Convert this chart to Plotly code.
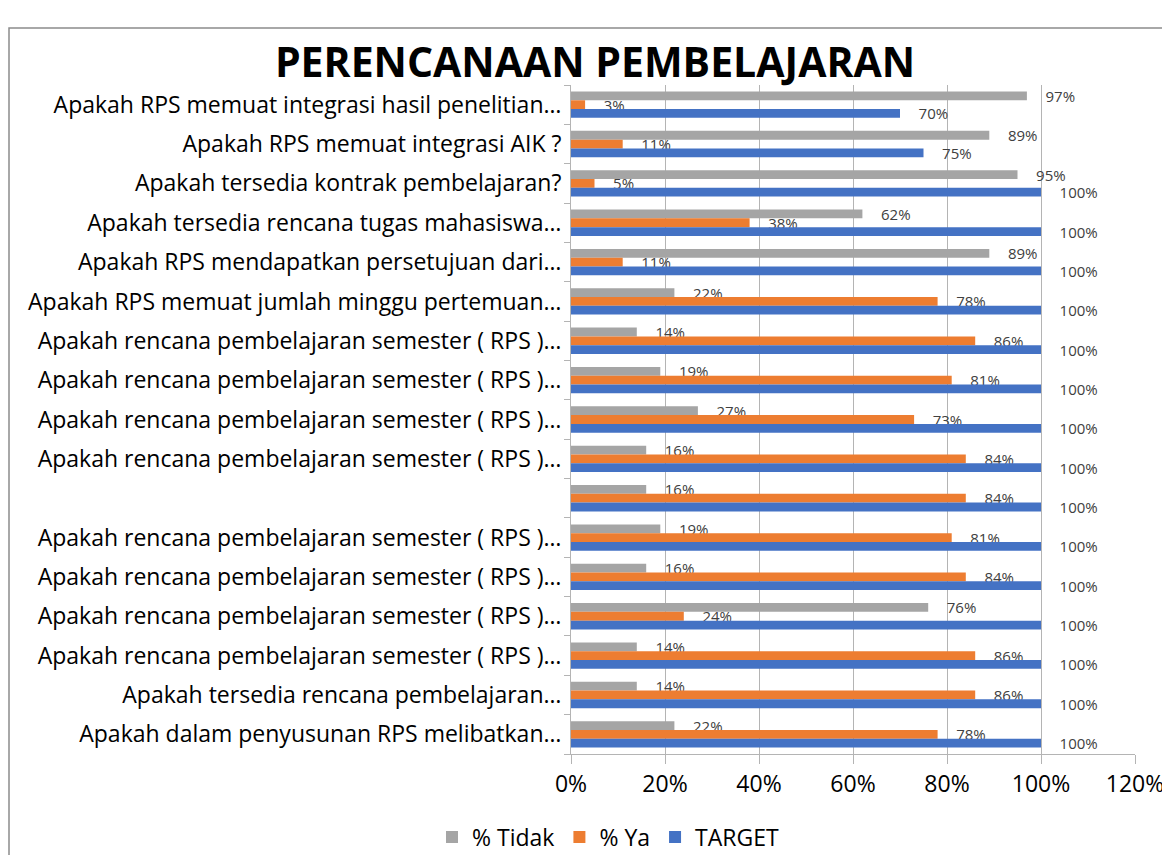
import plotly.graph_objects as go

# Categories listed top-to-bottom as in the reference
categories = [
    "Apakah RPS memuat integrasi hasil penelitian…",
    "Apakah RPS memuat integrasi AIK ?",
    "Apakah tersedia kontrak pembelajaran?",
    "Apakah tersedia rencana tugas mahasiswa…",
    "Apakah RPS mendapatkan persetujuan dari…",
    "Apakah RPS memuat jumlah minggu pertemuan…",
    "Apakah rencana pembelajaran semester ( RPS )…",
    "Apakah rencana pembelajaran semester ( RPS )…",
    "Apakah rencana pembelajaran semester ( RPS )…",
    "Apakah rencana pembelajaran semester ( RPS )…",
    "",
    "Apakah rencana pembelajaran semester ( RPS )…",
    "Apakah rencana pembelajaran semester ( RPS )…",
    "Apakah rencana pembelajaran semester ( RPS )…",
    "Apakah rencana pembelajaran semester ( RPS )…",
    "Apakah tersedia rencana pembelajaran…",
    "Apakah dalam penyusunan RPS melibatkan…",
]
tidak = [97, 89, 95, 62, 89, 22, 14, 19, 27, 16, 16, 19, 16, 76, 14, 14, 22]
ya = [3, 11, 5, 38, 11, 78, 86, 81, 73, 84, 84, 81, 84, 24, 86, 86, 78]
target = [70, 75, 100, 100, 100, 100, 100, 100, 100, 100, 100, 100, 100, 100, 100, 100, 100]

series = [
    ("% Tidak", tidak, "#A5A5A5"),
    ("% Ya", ya, "#ED7D31"),
    ("TARGET", target, "#4472C4"),
]

# page offset of the plot div (body margin)
O = 8
W, H = 1170 - O, 863 - 2 * O
# plot area in reference pixels
PL, PR, PT, PB = 571, 1135, 85, 754
ML, MR, MT, MB = PL - O, W - (PR - O), PT - O, H - (PB - O)
PW = W - ML - MR
PH = H - MT - MB

pos = list(range(len(categories)))
pad = "\u00a0" * 4

fig = go.Figure()
for name, vals, color in series:
    fig.add_trace(go.Bar(
        name=name,
        y=pos,
        x=[v / 100 for v in vals],
        orientation="h",
        marker=dict(color=color, line=dict(width=0)),
        text=[f"{pad}{v}%" for v in vals],
        textposition="outside",
        textfont=dict(family="Open Sans", size=15, color="#404040"),
        constraintext="none",
        cliponaxis=False,
        hoverinfo="skip",
    ))

def px_to_paper_x(px):
    return (px - O - ML) / PW

def px_to_paper_y(py):
    return (H - MB - (py - O)) / PH

fig.update_layout(
    width=W, height=H, autosize=False,
    margin=dict(l=ML, r=MR, t=MT, b=MB, pad=0, autoexpand=False),
    paper_bgcolor="white", plot_bgcolor="white",
    barmode="group", bargap=0.33, bargroupgap=0,
    title=dict(
        text="<b>PERENCANAAN PEMBELAJARAN</b>",
        x=(595 - O) / W, xref="container", xanchor="center",
        y=1 - (63 - O) / H, yref="container", yanchor="middle",
        font=dict(family="Open Sans", size=41, color="#000000"),
    ),
    font=dict(family="Open Sans", color="#000000"),
    showlegend=True,
    legend=dict(
        orientation="h",
        x=px_to_paper_x(608), xanchor="center",
        y=px_to_paper_y(837), yanchor="middle",
        font=dict(family="Open Sans", size=23, color="#000000"),
        traceorder="normal",
        itemwidth=30,
    ),
    xaxis=dict(
        range=[0, 1.2], dtick=0.2, tick0=0, tickformat=".0%",
        showgrid=True, gridcolor="#B4B4B4", gridwidth=1,
        showline=True, linecolor="#B4B4B4", linewidth=1,
        ticks="outside", ticklen=9, tickcolor="#B4B4B4",
        tickfont=dict(family="Open Sans", size=23, color="#000000"),
        ticklabeloverflow="allow",
        zeroline=False, fixedrange=True,
    ),
    yaxis=dict(
        range=[len(categories) - 0.5, -0.5],
        tickmode="array", tickvals=pos, ticktext=categories,
        showgrid=False, zeroline=False,
        showline=True, linecolor="#B4B4B4", linewidth=1,
        ticks="", ticklabelstandoff=4,
        tickfont=dict(family="Open Sans", size=23, color="#000000"),
        minor=dict(ticks="outside", tick0=-0.5, dtick=1, ticklen=6,
                   tickcolor="#B4B4B4", showgrid=False),
        fixedrange=True,
    ),
    shapes=[dict(
        type="rect", xref="paper", yref="paper",
        x0=px_to_paper_x(9), x1=px_to_paper_x(1200),
        y0=px_to_paper_y(28), y1=px_to_paper_y(900),
        line=dict(color="#8C8C8C", width=1.5), fillcolor="rgba(0,0,0,0)",
        layer="below",
    )],
)

fig.write_html("out.html")
